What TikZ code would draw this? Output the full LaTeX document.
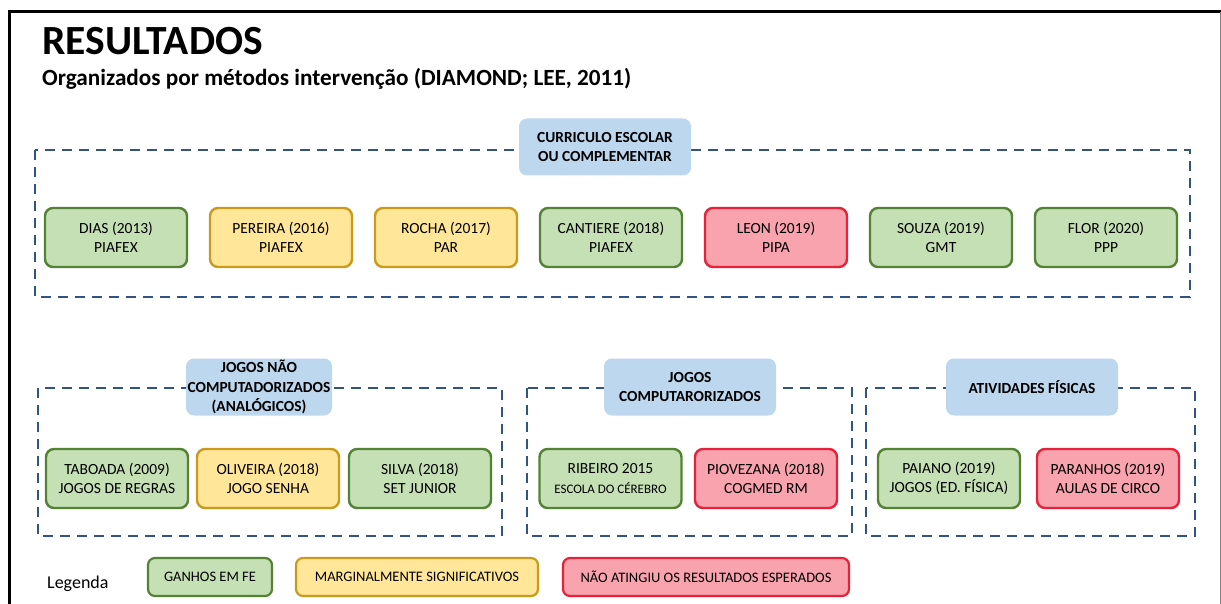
\documentclass[tikz,border=0pt]{standalone}
\usepackage{fontspec}
\setmainfont{Carlito}
\usepackage{xcolor}

\definecolor{verdeF}{HTML}{C5E0B4}
\definecolor{verdeB}{HTML}{548235}
\definecolor{amareloF}{HTML}{FFE699}
\definecolor{amareloB}{HTML}{C99A1C}
\definecolor{vermelhoF}{HTML}{F8A3AE}
\definecolor{vermelhoB}{HTML}{E8213A}
\definecolor{azulF}{HTML}{BDD7EE}
\definecolor{tracejado}{HTML}{2F5580}

\tikzset{
  item/.style={draw, line width=2.4pt, rounded corners=8pt, align=center,
    minimum width=142pt, minimum height=59pt, inner sep=0pt,
    font=\fontsize{15.5}{19.5}\selectfont},
  ganho/.style={item, fill=verdeF, draw=verdeB},
  marginal/.style={item, fill=amareloF, draw=amareloB},
  falha/.style={item, fill=vermelhoF, draw=vermelhoB},
  cabecalho/.style={fill=azulF, rounded corners=8pt, align=center,
    minimum width=172pt, minimum height=57pt, inner sep=0pt,
    font=\bfseries\fontsize{15.4}{19.5}\selectfont},
  grupo/.style={draw=tracejado, line width=2.6pt, dash pattern=on 10pt off 7pt},
  legendabox/.style={draw, line width=2.2pt, rounded corners=7pt,
    minimum height=38pt, inner sep=0pt, font=\fontsize{14.5}{16}\selectfont}
}

\begin{document}
\begin{tikzpicture}[x=1pt,y=-1pt]
  \useasboundingbox (0,0) rectangle (1221,604);
  % moldura
  \draw[line width=3pt] (9,604) -- (9,12) -- (1221,12);
  \draw[gray, line width=1pt] (1220,12) -- (1220,604);

  % titulo
  \node(titulo)[anchor=base west, inner sep=0pt, font=\bfseries\fontsize{41.5}{44}\selectfont] at (42,55) {RESULTADOS};
  \node(subtitulo)[anchor=base west, inner sep=0pt, font=\bfseries\fontsize{23.2}{26}\selectfont] at (42,86) {Organizados por métodos intervenção (DIAMOND; LEE, 2011)};

  % grupos tracejados
  \draw[grupo] (35,150) rectangle (1190,297);
  \draw[grupo] (38,388) rectangle (502,536);
  \draw[grupo] (527,388) rectangle (852,536);
  \draw[grupo] (866,388) rectangle (1195,536);

  % cabecalhos
  \node(curriculo)[cabecalho] at (605,147) {CURRICULO ESCOLAR\\OU COMPLEMENTAR};
  \node(analogicos)[cabecalho, minimum width=146pt] at (259,387) {JOGOS NÃO\\COMPUTADORIZADOS\\(ANALÓGICOS)};
  \node(computador)[cabecalho] at (690,387) {JOGOS\\COMPUTARORIZADOS};
  \node(fisicas)[cabecalho] at (1032,387) {ATIVIDADES FÍSICAS};

  % curriculo escolar
  \node(dias)[ganho] at (116,237.5) {DIAS (2013)\\PIAFEX};
  \node(pereira)[marginal] at (281,237.5) {PEREIRA (2016)\\PIAFEX};
  \node(rocha)[marginal] at (446,237.5) {ROCHA (2017)\\PAR};
  \node(cantiere)[ganho] at (611,237.5) {CANTIERE (2018)\\PIAFEX};
  \node(leon)[falha] at (776,237.5) {LEON (2019)\\PIPA};
  \node(souza)[ganho] at (941,237.5) {SOUZA (2019)\\GMT};
  \node(flor)[ganho] at (1106,237.5) {FLOR (2020)\\PPP};

  % jogos nao computadorizados
  \node(taboada)[ganho] at (117,478.5) {TABOADA (2009)\\JOGOS DE REGRAS};
  \node(oliveira)[marginal] at (268,478.5) {OLIVEIRA (2018)\\JOGO SENHA};
  \node(silva)[ganho] at (420,478.5) {SILVA (2018)\\SET JUNIOR};

  % jogos computadorizados
  \node(ribeiro)[ganho] at (610.5,478.5) {RIBEIRO 2015\\{\fontsize{13}{19.5}\selectfont ESCOLA DO CÉREBRO}};
  \node(piovezana)[falha] at (766,478.5) {PIOVEZANA (2018)\\COGMED RM};

  % atividades fisicas
  \node(paiano)[ganho] at (949,478.5) {PAIANO (2019)\\JOGOS (ED. FÍSICA)};
  \node(paranhos)[falha] at (1108,478.5) {PARANHOS (2019)\\AULAS DE CIRCO};

  % legenda
  \node(legenda)[anchor=base west, inner sep=0pt, font=\fontsize{18}{20}\selectfont] at (47,588) {Legenda};
  \node(leg1)[legendabox, fill=verdeF, draw=verdeB, minimum width=124pt] at (210,577) {GANHOS EM FE};
  \node(leg2)[legendabox, fill=amareloF, draw=amareloB, minimum width=242pt] at (417,577) {MARGINALMENTE SIGNIFICATIVOS};
  \node(leg3)[legendabox, fill=vermelhoF, draw=vermelhoB, minimum width=286pt] at (706,577) {NÃO ATINGIU OS RESULTADOS ESPERADOS};
\end{tikzpicture}
\end{document}
